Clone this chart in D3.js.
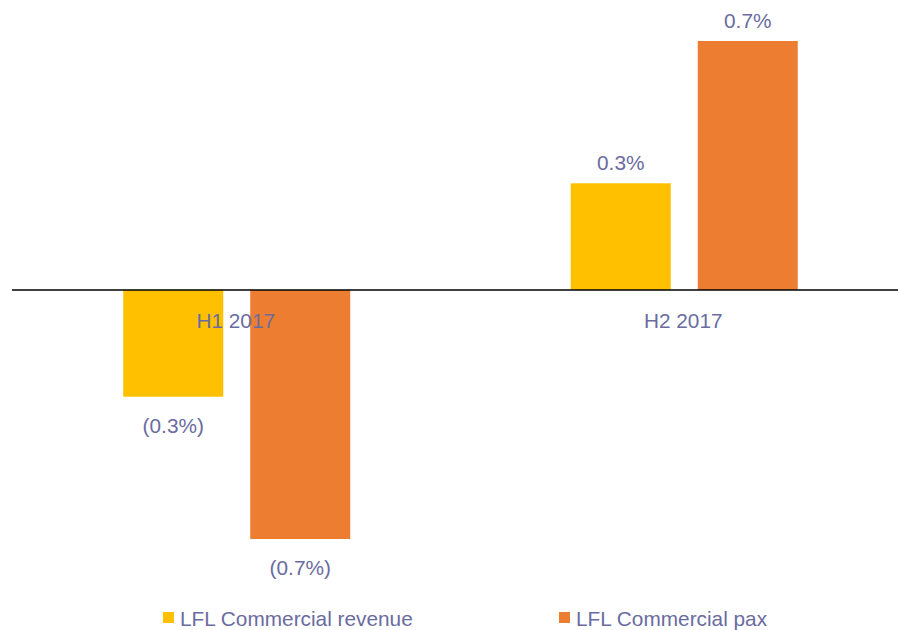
<!DOCTYPE html>
<html><head><meta charset="utf-8">
<script src="https://cdn.jsdelivr.net/npm/d3@7"></script>
<style>body{margin:0;background:#fff}svg{display:block}</style>
</head><body>
<svg id="c" width="898" height="630"></svg>
<script>
const categories = ["H1 2017", "H2 2017"];
const seriesNames = ["LFL Commercial revenue", "LFL Commercial pax"];
const revenue = [-0.3, 0.3];
const pax = [-0.7, 0.7];
const colors = ["#FFC000", "#ED7D31"];
const textColor = "#6A6C9F";
const FONT = "Liberation Sans, Arial, sans-serif";
const FS = 20.8;

const svg = d3.select("#c").attr("font-family", FONT);
const x0 = d3.scaleBand().domain(categories).range([13, 908]).padding(0);
const x1 = d3.scaleBand().domain(seriesNames).range([110.25, 337.25]).paddingInner(0.2126).paddingOuter(0);
const y = d3.scaleLinear().domain([-0.7, 0.7]).range([539, 41]);

const data = categories.map((c, i) => ({cat: c, vals: [revenue[i], pax[i]]}));
const fmt = v => v < 0 ? "(" + Math.abs(v).toFixed(1) + "%)" : v.toFixed(1) + "%";

const g = svg.append("g");
data.forEach(d => {
  d.vals.forEach((v, j) => {
    const xs = x0(d.cat) + x1(seriesNames[j]);
    g.append("rect")
      .attr("x", xs).attr("width", x1.bandwidth())
      .attr("y", y(Math.max(0, v))).attr("height", Math.abs(y(v) - y(0)))
      .attr("fill", colors[j]);
    g.append("text")
      .attr("x", xs + x1.bandwidth() / 2)
      .attr("y", v >= 0 ? y(v) - 13 : y(v) + 36)
      .attr("text-anchor", "middle").attr("font-size", FS).attr("font-family", FONT).attr("fill", textColor)
      .text(fmt(v));
  });
});

// zero line
svg.append("line").attr("x1", 12).attr("x2", 898).attr("y1", y(0)).attr("y2", y(0))
  .attr("stroke", "#000").attr("stroke-width", 1.3);

// category labels
categories.forEach(c => {
  svg.append("text").attr("x", x0(c) + x0.bandwidth() / 2 - 1).attr("y", y(0) + 38)
    .attr("text-anchor", "middle").attr("font-size", FS).attr("font-family", FONT).attr("fill", textColor).text(c);
});

// legend
const legX = [163, 559];
seriesNames.forEach((s, j) => {
  svg.append("rect").attr("x", legX[j]).attr("y", 612).attr("width", 11).attr("height", 11).attr("fill", colors[j]);
  svg.append("text").attr("x", legX[j] + 17).attr("y", 626).attr("font-size", FS).attr("font-family", FONT).attr("fill", textColor).text(s);
});
</script>
</body></html>
